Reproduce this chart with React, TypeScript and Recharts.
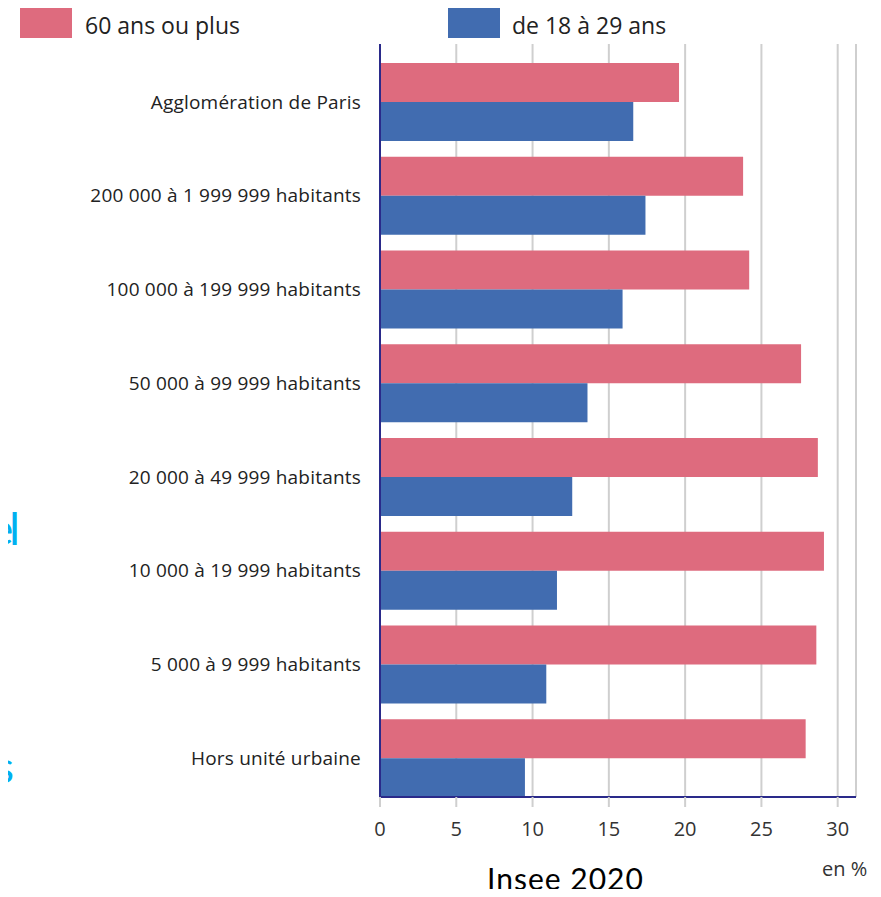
import { Bar, BarChart, CartesianGrid, XAxis, YAxis } from "recharts";

const categories = [
  "Agglomération de Paris",
  "200 000 à 1 999 999 habitants",
  "100 000 à 199 999 habitants",
  "50 000 à 99 999 habitants",
  "20 000 à 49 999 habitants",
  "10 000 à 19 999 habitants",
  "5 000 à 9 999 habitants",
  "Hors unité urbaine",
];
const seniors = [19.6, 23.8, 24.2, 27.6, 28.7, 29.1, 28.6, 27.9];
const youngs = [16.6, 17.4, 15.9, 13.6, 12.6, 11.6, 10.9, 9.5];
const xTicks = [0, 5, 10, 15, 20, 25, 30];

const PINK = "#de6b7e";
const BLUE = "#416cb0";
const FONT = "'Open Sans', sans-serif";

const data = categories.map((name, i) => ({
  name,
  seniors: seniors[i],
  youngs: youngs[i],
}));

export default function App() {
  return (
    <div style={{ position: "relative", width: 881, height: 897, margin: -8, overflow: "hidden", background: "#fff" }}>
      {/* legend */}
      <div style={{ position: "absolute", left: 20, top: 8, width: 52, height: 30, background: PINK }} />
      <div style={{ position: "absolute", left: 85, top: 14, fontFamily: FONT, fontSize: 23, lineHeight: 1, color: "#222" }}>
        60 ans ou plus
      </div>
      <div style={{ position: "absolute", left: 448, top: 8, width: 52, height: 30, background: BLUE }} />
      <div style={{ position: "absolute", left: 512, top: 14, fontFamily: FONT, fontSize: 23, lineHeight: 1, color: "#222" }}>
        de 18 à 29 ans
      </div>

      <BarChart
        width={881}
        height={897}
        data={data}
        layout="vertical"
        margin={{ top: 44, right: 25, bottom: 70, left: 0 }}
        barGap={0}
        barSize={39}
      >
        <CartesianGrid horizontal={false} stroke="#cfcfcf" strokeWidth={2} />
        <XAxis
          type="number"
          domain={[0, 31.2]}
          ticks={xTicks}
          axisLine={{ stroke: "#2a2a8a", strokeWidth: 2 }}
          tickLine={{ stroke: "#cfcfcf", strokeWidth: 2 }}
          tickSize={10}
          tick={{ fontFamily: FONT, fontSize: 20, fill: "#333" }}
          tickMargin={15}
        />
        <YAxis
          type="category"
          dataKey="name"
          width={380}
          padding={{ top: 11, bottom: -8 }}
          axisLine={{ stroke: "#2a2a8a", strokeWidth: 2 }}
          tickLine={false}
          tickSize={0}
          tickMargin={19}
          tick={{ fontFamily: FONT, fontSize: 19, letterSpacing: 0.2, fill: "#222" }}
        />
        <Bar dataKey="seniors" fill={PINK} isAnimationActive={false} />
        <Bar dataKey="youngs" fill={BLUE} isAnimationActive={false} />
      </BarChart>

      {/* unit, source and cut-off slide text */}
      <svg width={881} height={897} style={{ position: "absolute", left: 0, top: 0, pointerEvents: "none" }}>
        <text x={822} y={876} fontFamily={FONT} fontSize={20} fill="#333">en %</text>
        <text x={487} y={890} fontFamily="Lato, sans-serif" fontSize={30} letterSpacing={1} fill="#000">Insee 2020</text>
        <text x={16} y={545} textAnchor="end" letterSpacing={-4} fontFamily="Lato, sans-serif" fontSize={45} fill="#00b0f0">el</text>
        <text x={14} y={783} textAnchor="end" fontFamily="Lato, sans-serif" fontSize={45} fill="#00b0f0">s</text>
      </svg>
    </div>
  );
}
